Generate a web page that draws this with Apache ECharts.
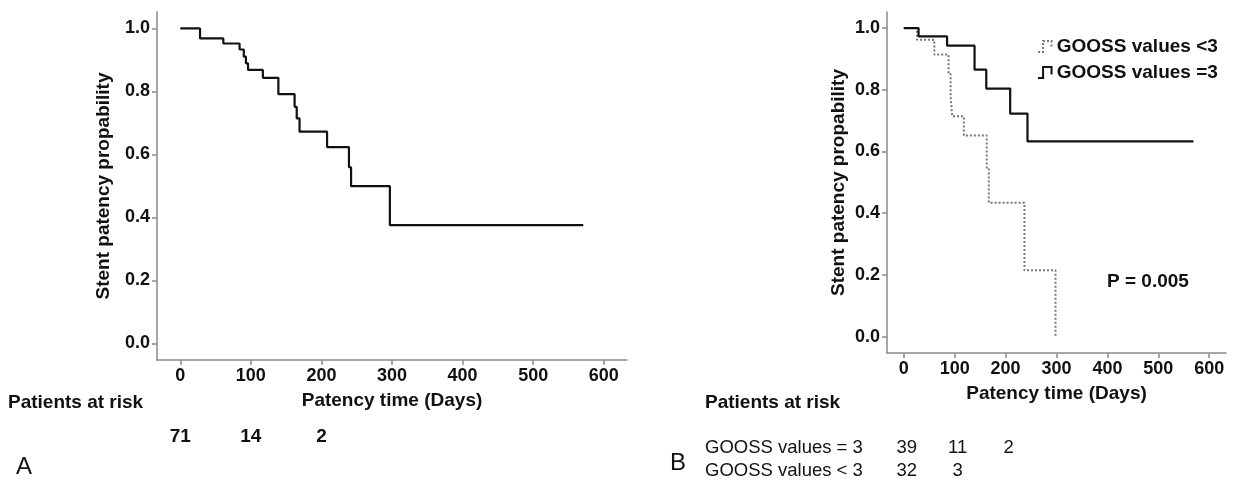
<!DOCTYPE html>
<html>
<head>
<meta charset="utf-8">
<script src="https://cdn.jsdelivr.net/npm/echarts@6/dist/echarts.min.js"></script>
<style>
  html, body { margin: 0; padding: 0; background: #fff; }
  #chart { width: 1237px; height: 480px; }
</style>
</head>
<body>
<div id="chart"></div>
<script>
// ---------- data ----------
// Panel A: overall Kaplan-Meier curve [days, probability]
const kmAll = [[0,1],[28,0.968],[61,0.952],[84,0.933],[90,0.91],[93,0.889],[96,0.868],[117,0.843],[139,0.791],[162,0.751],[165,0.714],[169,0.672],[208,0.623],[239,0.559],[242,0.499],[297,0.375],[571,0.375]];
// Panel B: by GOOSS value
const kmGoossEq3 = [[0,1],[29,0.973],[85,0.943],[139,0.865],[162,0.804],[209,0.723],[243,0.633],[569,0.633]];
const kmGoossLt3 = [[0,1],[26,0.962],[60,0.914],[88,0.851],[92,0.78],[95,0.714],[118,0.652],[163,0.547],[167,0.434],[237,0.215],[298,0]];
const seriesNames = ['GOOSS values <3', 'GOOSS values =3'];
const xTicks = [0,100,200,300,400,500,600];
const yTicks = [0,0.2,0.4,0.6,0.8,1.0];
const riskTimes = [0,100,200];
const riskA = [71,14,2];
const riskBEq3 = [39,11,2];
const riskBLt3 = [32,3];
const riskLabels = ['GOOSS values = 3', 'GOOSS values < 3'];
const pValueText = 'P = 0.005';

// ---------- styles ----------
const FONT = '"Liberation Sans", Arial, sans-serif';
const axisGray = '#8a8a8a';
const ink = '#111';

function xAxisCfg(gridIndex) {
  return {
    type: 'value', gridIndex: gridIndex, min: -33, max: 633,
    name: 'Patency time (Days)', nameLocation: 'middle', nameGap: 31,
    nameTextStyle: { fontFamily: FONT, fontWeight: 'bold', fontSize: 19, color: ink },
    axisLine: { show: true, onZero: false, lineStyle: { color: axisGray, width: 1.5 } },
    axisTick: { show: true, length: 5, customValues: xTicks, lineStyle: { color: axisGray, width: 1.5 } },
    axisLabel: { customValues: xTicks, margin: 7, fontFamily: FONT, fontWeight: 'bold', fontSize: 18, color: ink },
    splitLine: { show: false }
  };
}
function yAxisCfg(gridIndex, gap) {
  return {
    type: 'value', gridIndex: gridIndex, min: -0.053, max: 1.052,
    name: 'Stent patency propability', nameLocation: 'middle', nameGap: gap, nameRotate: 90,
    nameTextStyle: { fontFamily: FONT, fontWeight: 'bold', fontSize: 19, color: ink },
    axisLine: { show: true, onZero: false, lineStyle: { color: axisGray, width: 1.5 } },
    axisTick: { show: true, length: 5, customValues: yTicks, lineStyle: { color: axisGray, width: 1.5 } },
    axisLabel: { customValues: yTicks, margin: 7, fontFamily: FONT, fontWeight: 'bold', fontSize: 18, color: ink,
                 formatter: v => Number(v).toFixed(1) },
    splitLine: { show: false }
  };
}

const chart = echarts.init(document.getElementById('chart'), null, { renderer: 'canvas' });
chart.setOption({
  backgroundColor: '#fff',
  animation: false,
  grid: [
    { left: 157, top: 12, width: 470, height: 348, containLabel: false },
    { left: 887, top: 12, width: 339, height: 341, containLabel: false }
  ],
  xAxis: [xAxisCfg(0), xAxisCfg(1)],
  yAxis: [yAxisCfg(0, 44), yAxisCfg(1, 39)],
  legend: {
    orient: 'vertical', left: 1037, top: 37, itemWidth: 14, itemHeight: 11, itemGap: 7, padding: 0,
    textStyle: { fontFamily: FONT, fontWeight: 'bold', fontSize: 19, color: ink },
    data: [
      { name: seriesNames[0], icon: 'path://M0,13 L6,13 L6,0 L16,0 L16,9',
        itemStyle: { color: 'transparent', borderColor: '#777', borderWidth: 2, borderType: [2,2] } },
      { name: seriesNames[1], icon: 'path://M0,13 L6,13 L6,0 L16,0 L16,9',
        itemStyle: { color: 'transparent', borderColor: ink, borderWidth: 2, borderType: 'solid' } }
    ]
  },
  series: [
    { type: 'line', name: 'All patients', xAxisIndex: 0, yAxisIndex: 0, data: kmAll, step: 'end',
      showSymbol: false, symbol: 'none', lineStyle: { color: ink, width: 2.2 }, itemStyle: { color: ink } },
    { type: 'line', name: seriesNames[0], xAxisIndex: 1, yAxisIndex: 1, data: kmGoossLt3, step: 'end',
      showSymbol: false, symbol: 'none', lineStyle: { color: '#777', width: 2, type: [2,2] }, itemStyle: { color: '#777' } },
    { type: 'line', name: seriesNames[1], xAxisIndex: 1, yAxisIndex: 1, data: kmGoossEq3, step: 'end',
      showSymbol: false, symbol: 'none', lineStyle: { color: ink, width: 2.2 }, itemStyle: { color: ink } }
  ]
});

// ---------- risk tables & annotations positioned from the axes ----------
function px(axisIdx, v) { return chart.convertToPixel({ xAxisIndex: axisIdx }, v); }
function txt(x, y, text, opt) {
  opt = opt || {};
  return { type: 'text', x: x, y: y, silent: true,
    style: { text: text, fill: ink, align: opt.align || 'center', verticalAlign: 'middle',
             font: (opt.weight || 'bold') + ' ' + (opt.size || 19) + 'px ' + FONT } };
}
const g = [];
g.push(txt(8, 403, 'Patients at risk', { align: 'left' }));
riskA.forEach((n, i) => g.push(txt(px(0, riskTimes[i]), 437, String(n))));
g.push(txt(24, 467, 'A', { weight: 'normal', size: 24 }));

g.push(txt(705, 403, 'Patients at risk', { align: 'left' }));
g.push(txt(705, 448, riskLabels[0], { align: 'left', weight: 'normal', size: 18.5 }));
g.push(txt(705, 471, riskLabels[1], { align: 'left', weight: 'normal', size: 18.5 }));
riskBEq3.forEach((n, i) => g.push(txt(px(1, riskTimes[i]) + 3, 448, String(n), { weight: 'normal', size: 18.5 })));
riskBLt3.forEach((n, i) => g.push(txt(px(1, riskTimes[i]) + 3, 471, String(n), { weight: 'normal', size: 18.5 })));
g.push(txt(678, 463, 'B', { weight: 'normal', size: 24 }));
g.push(txt(1107, 282, pValueText, { align: 'left' }));
chart.setOption({ graphic: g });
</script>
</body>
</html>
